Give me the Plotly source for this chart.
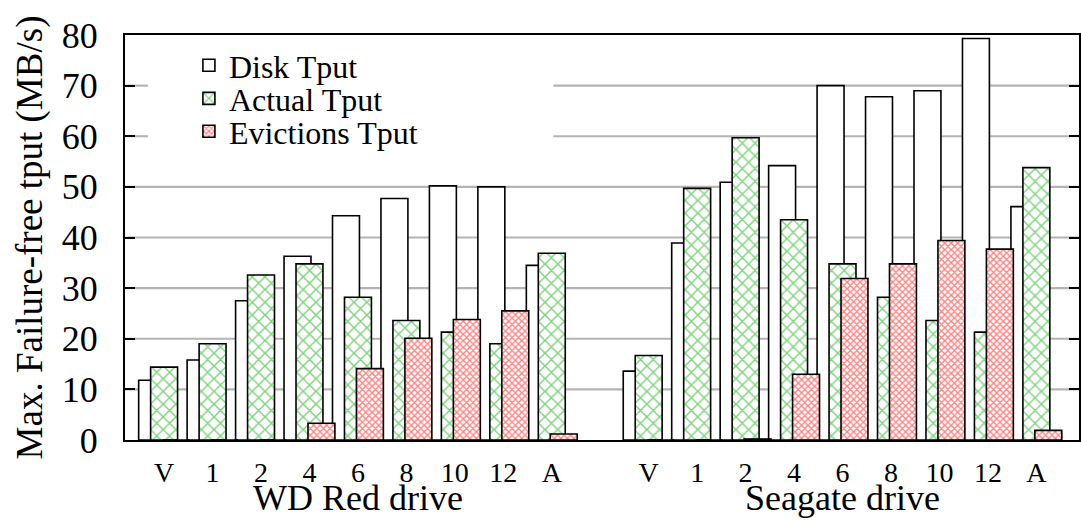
import numpy as np
import plotly.graph_objects as go

# ---- data ----
categories = ["V", "1", "2", "4", "6", "8", "10", "12", "A"]
groups = ["WD Red drive", "Seagate drive"]

wd_disk = [11.8, 15.8, 27.5, 36.3, 44.3, 47.7, 50.2, 50.0, 34.5]
wd_actual = [14.4, 19.0, 32.6, 34.8, 28.2, 23.6, 21.3, 19.0, 36.9]
wd_evict = [0.0, 0.0, 0.0, 3.3, 14.1, 20.1, 23.8, 25.5, 1.2]

sg_disk = [13.6, 38.9, 50.9, 54.2, 70.0, 67.8, 69.0, 79.3, 46.1]
sg_actual = [16.7, 49.7, 59.7, 43.5, 34.8, 28.2, 23.6, 21.3, 53.8]
sg_evict = [0.0, 0.0, 0.2, 13.0, 31.9, 34.8, 39.4, 37.7, 1.9]

series_names = ["Disk Tput", "Actual Tput", "Evictions Tput"]
y_ticks = [0, 10, 20, 30, 40, 50, 60, 70, 80]

# ---- layout helpers ----
n = len(categories)
x_wd = np.arange(n)
x_sg = np.arange(n) + n + 1
x_all = np.concatenate([x_wd, x_sg])

FONT = "Liberation Serif"
BAR_W = 0.556
STEP = 0.247
GREEN = "#00a800"
RED = "#ff0000"
GRID = "#b4b4b4"
X_RANGE = [-0.807, 18.88]
GRID_THICK = 0.42  # y units (about 2 px)

fig = go.Figure()

# grid lines, drawn first so that the bars cover them; cut where the legend sits
span = X_RANGE[1] - X_RANGE[0]
LEG_X0 = X_RANGE[0] + 0.024 * span
LEG_X1 = X_RANGE[0] + 0.449 * span
g_y, g_len, g_base = [], [], []
for yv in y_ticks[1:-1]:
    segs = [(X_RANGE[0], LEG_X0), (LEG_X1, X_RANGE[1])] if yv >= 55 else [(X_RANGE[0], X_RANGE[1])]
    for a, b in segs:
        g_y.append(yv)
        g_len.append(b - a)
        g_base.append(a)
fig.add_trace(go.Bar(
    y=g_y, x=g_len, base=g_base, orientation="h", width=GRID_THICK,
    marker=dict(color=GRID, line=dict(width=0)),
    showlegend=False, hoverinfo="skip",
))

series = [
    (series_names[0], wd_disk + sg_disk, dict(color="white"), -STEP, "legend"),
    (series_names[1], wd_actual + sg_actual,
     dict(color="white", pattern=dict(shape="x", size=9, solidity=0.3,
                                      fgcolor=GREEN, bgcolor="white", fillmode="overlay")),
     0.0, "legend2"),
    (series_names[2], wd_evict + sg_evict,
     dict(color="white", pattern=dict(shape="x", size=4.6, solidity=0.5,
                                      fgcolor=RED, bgcolor="white", fillmode="overlay")),
     STEP, "legend3"),
]

for name, vals, marker, shift, leg in series:
    m = dict(marker)
    m["line"] = dict(color="black", width=1.6)
    fig.add_trace(go.Bar(
        x=x_all, y=vals, name=name, marker=m,
        width=BAR_W, offset=shift - BAR_W / 2,
        legend=leg, showlegend=True,
    ))

leg_common = dict(
    x=0.067, xanchor="left", yanchor="middle",
    bgcolor="rgba(0,0,0,0)", borderwidth=0,
    font=dict(family=FONT, size=32, color="black"),
)
fig.update_layout(
    legend=dict(y=0.925, **leg_common),
    legend2=dict(y=0.843, **leg_common),
    legend3=dict(y=0.762, **leg_common),
)

fig.update_layout(
    width=1081, height=520,
    margin=dict(l=125, r=0, t=35, b=80),
    paper_bgcolor="white", plot_bgcolor="white",
    barmode="overlay",
    font=dict(family=FONT, color="black"),
    showlegend=True,
)

fig.update_xaxes(
    range=X_RANGE,
    tickmode="array", tickvals=x_all, ticktext=categories * 2,
    tickfont=dict(family=FONT, size=28, color="black"),
    ticks="", showgrid=False, zeroline=False, ticklabelstandoff=6,
    showline=True, linecolor="black", linewidth=2, mirror=True,
)
fig.update_yaxes(
    range=[0, 80], tickmode="array", tickvals=y_ticks,
    tickfont=dict(family=FONT, size=36, color="black"),
    ticks="inside", ticklen=10, tickwidth=1.5, tickcolor="black",
    ticklabelstandoff=18,
    showgrid=False,
    zeroline=False,
    showline=True, linecolor="black", linewidth=2, mirror="ticks",
    title=dict(text="Max. Failure-free tput (MB/s)",
               font=dict(family=FONT, size=37, color="black"), standoff=8),
)

for gx, label in zip([x_wd.mean(), x_sg.mean()], groups):
    fig.add_annotation(x=gx, xref="x", y=-0.1968, yref="paper",
                       text=label, showarrow=False, yanchor="bottom",
                       font=dict(family=FONT, size=36, color="black"))

fig.write_html("out.html")
